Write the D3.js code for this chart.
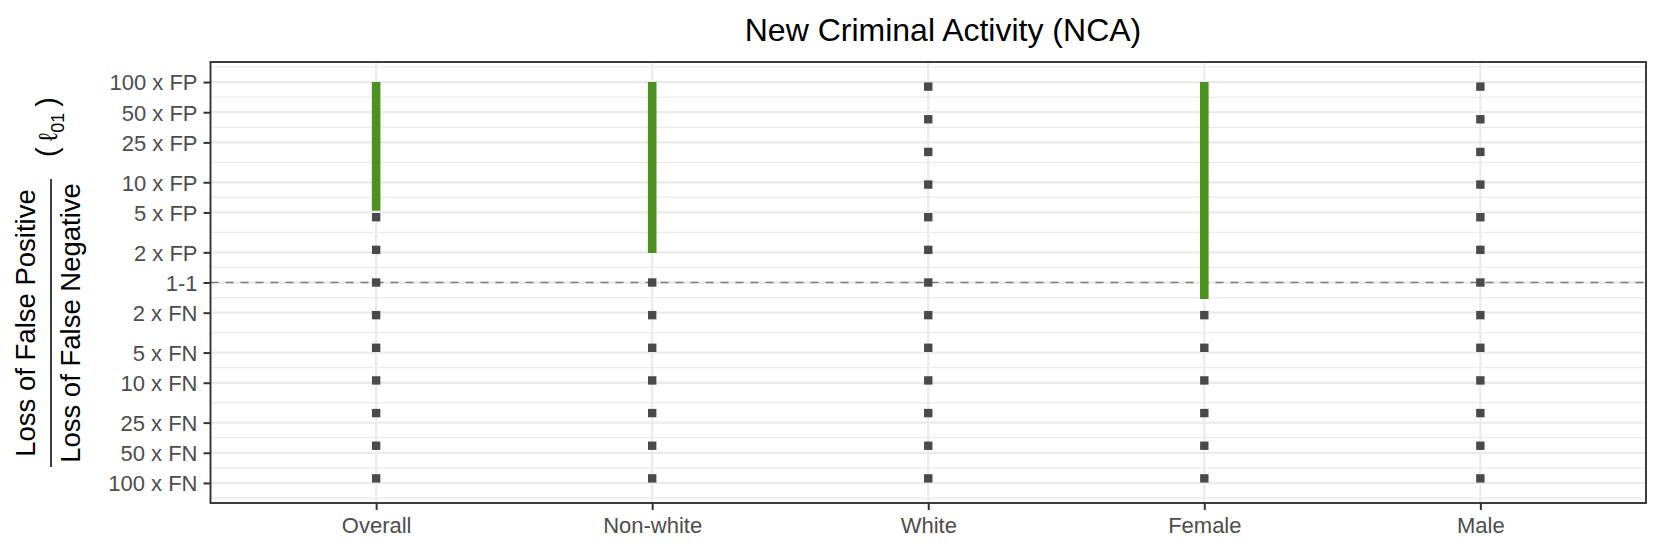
<!DOCTYPE html>
<html lang="en">
  <head>
    <meta charset="utf-8">
    <title>New Criminal Activity (NCA)</title>
    <style>
      body { margin: 0; background: #fff; }
      svg text { font-family: "Liberation Sans", Arial, Helvetica, sans-serif; }
      .tick text { fill: #4d4d4d; font-size: 22px; }
      .tick line { stroke: #333; stroke-width: 2px; }
    </style>
    <script src="https://cdn.jsdelivr.net/npm/d3@7"></script>
  </head>
  <body>
<svg width="1661" height="554"></svg>
<script>

// groups on the x axis
var categories = ["Overall", "Non-white", "White", "Female", "Male"];

// loss ratios that were evaluated (natural log of FP/FN weight)
var gridLogRatios = [-4.5, -3.75, -3, -2.25, -1.5, -0.75, 0, 0.75, 1.5, 2.25, 3, 3.75, 4.5];

// green ranges, low and high end in log ratio (null = no range)
var rangeLow  = [1.65, 0.68, null, -0.38, null];
var rangeHigh = [4.605, 4.605, null, 4.605, null];

// y ticks: positive = x FP, negative = x FN
var tickRatios = [100, 50, 25, 10, 5, 2, 1, -2, -5, -10, -25, -50, -100];
var tickLabels = ["100 x FP", "50 x FP", "25 x FP", "10 x FP", "5 x FP", "2 x FP", "1-1",
                  "2 x FN", "5 x FN", "10 x FN", "25 x FN", "50 x FN", "100 x FN"];

var svg = d3.select("svg"),
    pLeft = 210.5, pRight = 1646, pTop = 62, pBottom = 503;

var tickLogs = tickRatios.map(function(r) { return r > 0 ? Math.log(r) : -Math.log(-r); });
var maxLog = Math.log(100) * 1.1;

var x = d3.scalePoint().domain(categories).range([pLeft, pRight]).padding(0.6);
var y = d3.scaleLinear().domain([-maxLog, maxLog]).range([pBottom, pTop]);

// minor breaks halfway between majors, plus one past each end
var minorLogs = [];
for (var i = 0; i < tickLogs.length - 1; i++) minorLogs.push((tickLogs[i] + tickLogs[i + 1]) / 2);
minorLogs.push(tickLogs[0] + (tickLogs[0] - tickLogs[1]) / 2);
minorLogs.push(tickLogs[tickLogs.length - 1] - (tickLogs[0] - tickLogs[1]) / 2);

var grid = svg.append("g");
grid.selectAll("line.minor").data(minorLogs).enter().append("line")
    .attr("x1", pLeft).attr("x2", pRight)
    .attr("y1", function(d) { return y(d); }).attr("y2", function(d) { return y(d); })
    .attr("stroke", "#ebebeb").attr("stroke-width", 1.2);
grid.selectAll("line.major").data(tickLogs).enter().append("line")
    .attr("x1", pLeft).attr("x2", pRight)
    .attr("y1", function(d) { return y(d); }).attr("y2", function(d) { return y(d); })
    .attr("stroke", "#ebebeb").attr("stroke-width", 2.3);
grid.selectAll("line.vert").data(categories).enter().append("line")
    .attr("x1", function(d) { return x(d); }).attr("x2", function(d) { return x(d); })
    .attr("y1", pTop).attr("y2", pBottom)
    .attr("stroke", "#ebebeb").attr("stroke-width", 2.3);

// reference line at 1-1
svg.append("line")
    .attr("x1", pLeft).attr("x2", pRight).attr("y1", y(0)).attr("y2", y(0))
    .attr("stroke", "#7f7f7f").attr("stroke-width", 1.7).attr("stroke-dasharray", "8,7");

// points outside the green range of their group
var pts = [];
categories.forEach(function(c, ci) {
  gridLogRatios.forEach(function(v) {
    if (rangeLow[ci] !== null && v >= rangeLow[ci] && v <= rangeHigh[ci]) return;
    pts.push({cat: c, v: v});
  });
});
var s = 8.4;
svg.append("g").selectAll("rect").data(pts).enter().append("rect")
    .attr("x", function(d) { return x(d.cat) - s / 2; })
    .attr("y", function(d) { return y(d.v) - s / 2; })
    .attr("width", s).attr("height", s)
    .attr("fill", "#4a4a4a");

// green ranges
svg.append("g").selectAll("line").data(categories.filter(function(c, i) { return rangeLow[i] !== null; }))
  .enter().append("line")
    .attr("x1", function(d) { return x(d); }).attr("x2", function(d) { return x(d); })
    .attr("y1", function(d) { return y(rangeLow[categories.indexOf(d)]); })
    .attr("y2", function(d) { return y(rangeHigh[categories.indexOf(d)]); })
    .attr("stroke", "#4d9221").attr("stroke-width", 8.6);

// panel border
svg.append("rect")
    .attr("x", pLeft).attr("y", pTop).attr("width", pRight - pLeft).attr("height", pBottom - pTop)
    .attr("fill", "none").attr("stroke", "#333").attr("stroke-width", 1.9);

// axes
var yAxis = svg.append("g").attr("transform", "translate(" + pLeft + ",0)")
    .call(d3.axisLeft(y).tickValues(tickLogs)
      .tickFormat(function(d, i) { return tickLabels[i]; })
      .tickSize(7).tickPadding(6).tickSizeOuter(0));
yAxis.select(".domain").remove();
yAxis.selectAll("text").attr("dy", "0.36em");

var xAxis = svg.append("g").attr("transform", "translate(0," + pBottom + ")")
    .call(d3.axisBottom(x).tickSize(7).tickPadding(7).tickSizeOuter(0));
xAxis.select(".domain").remove();

// title
svg.append("text")
    .attr("x", 943).attr("y", 41)
    .attr("text-anchor", "middle").attr("font-size", 32).attr("fill", "#000")
    .text("New Criminal Activity (NCA)");

// y axis title: fraction plus (l01)
var yt = svg.append("g").attr("transform", "translate(51,323) rotate(-90)");
yt.append("text").attr("x", 0).attr("y", -16).attr("text-anchor", "middle")
    .attr("font-size", 27.5).text("Loss of False Positive");
yt.append("line").attr("x1", -144).attr("x2", 144).attr("y1", 0).attr("y2", 0)
    .attr("stroke", "#000").attr("stroke-width", 1.5);
yt.append("text").attr("x", 0).attr("y", 29).attr("text-anchor", "middle")
    .attr("font-size", 27.5).text("Loss of False Negative");

var lt = svg.append("text").attr("transform", "translate(57,127) rotate(-90)")
    .attr("text-anchor", "middle").attr("font-size", 29);
lt.append("tspan").text("(");
lt.append("tspan").attr("dx", 6).attr("font-size", 26).text("\u2113");
lt.append("tspan").attr("font-size", 18).attr("dy", 7).text("01");
lt.append("tspan").attr("dx", 6).attr("dy", -7).text(")");

</script>
  </body>
</html>
